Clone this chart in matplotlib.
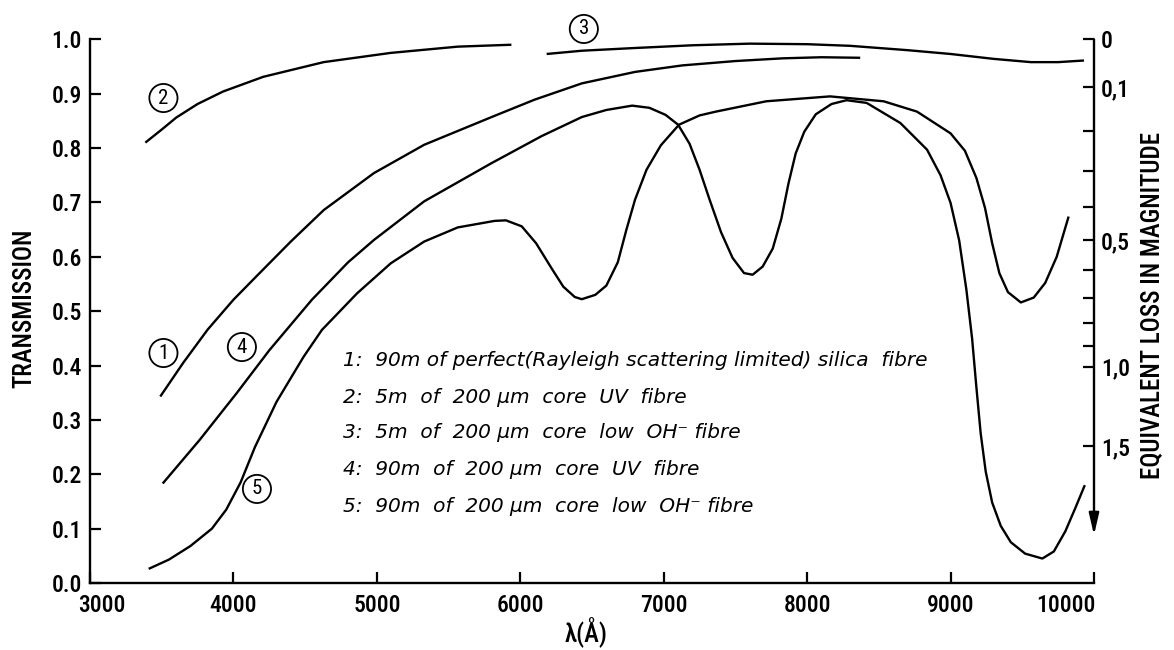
import numpy as np
import matplotlib
matplotlib.use("Agg")
import matplotlib.pyplot as plt
import matplotlib.font_manager as fm
import matplotlib.transforms as mtrans

# ---------------- data ----------------
c1_x = [3490, 3650, 3820, 4000, 4160, 4400, 4630, 4980, 5330, 5800, 6100, 6430, 6800, 7130, 7500, 7830, 8100, 8370]
c1_y = [0.343, 0.405, 0.466, 0.521, 0.564, 0.628, 0.686, 0.754, 0.806, 0.857, 0.889, 0.919, 0.940, 0.952, 0.960, 0.965, 0.967, 0.966]

c2_x = [3386, 3500, 3601, 3750, 3928, 4208, 4629, 5097, 5564, 5938]
c2_y = [0.810, 0.834, 0.856, 0.881, 0.904, 0.931, 0.958, 0.975, 0.9865, 0.990]

c3_x = [6184, 6430, 6800, 7200, 7600, 8000, 8300, 8700, 9000, 9300, 9560, 9750, 9930]
c3_y = [0.973, 0.979, 0.984, 0.989, 0.992, 0.991, 0.988, 0.980, 0.973, 0.964, 0.958, 0.958, 0.961]

c4_x = [3507, 3764, 4022, 4250, 4547, 4800, 4980, 5330, 5798, 6149, 6429, 6600, 6780, 6900, 7013, 7100,
        7180, 7250, 7320, 7400, 7480, 7560, 7620, 7690, 7760, 7820, 7870, 7920, 7980, 8060, 8170, 8275,
        8415, 8650, 8836, 8930, 9000, 9060, 9110, 9150, 9180, 9210, 9245, 9290, 9350, 9420, 9520, 9640,
        9720, 9800, 9870, 9936]
c4_y = [0.183, 0.263, 0.349, 0.428, 0.521, 0.590, 0.631, 0.702, 0.772, 0.822, 0.857, 0.870, 0.878, 0.874, 0.861, 0.843,
        0.808, 0.760, 0.705, 0.645, 0.598, 0.570, 0.567, 0.582, 0.615, 0.670, 0.735, 0.790, 0.830, 0.862, 0.881, 0.888,
        0.883, 0.846, 0.797, 0.750, 0.699, 0.630, 0.540, 0.450, 0.360, 0.275, 0.205, 0.148, 0.105, 0.075, 0.054, 0.045,
        0.058, 0.095, 0.138, 0.180]

c5_x = [3409, 3550, 3700, 3850, 3950, 4050, 4150, 4300, 4489, 4617, 4863, 5097, 5330, 5564, 5821, 5900, 6010,
        6110, 6220, 6300, 6380, 6429, 6523, 6600, 6680, 6740, 6800, 6880, 6980, 7107, 7250, 7364, 7715, 8159,
        8533, 8766, 9000, 9100, 9180, 9240, 9290, 9340, 9400, 9490, 9580, 9660, 9740, 9823]
c5_y = [0.026, 0.043, 0.068, 0.100, 0.135, 0.185, 0.250, 0.333, 0.416, 0.4655, 0.533, 0.588, 0.628, 0.654, 0.666, 0.667, 0.656,
        0.625, 0.578, 0.545, 0.526, 0.522, 0.530, 0.547, 0.590, 0.650, 0.705, 0.760, 0.805, 0.843, 0.860, 0.867, 0.886, 0.895,
        0.886, 0.867, 0.827, 0.795, 0.745, 0.690, 0.625, 0.570, 0.535, 0.516, 0.525, 0.552, 0.600, 0.674]

x_ticks = [3000, 4000, 5000, 6000, 7000, 8000, 9000, 10000]
y_ticks = [0.0, 0.1, 0.2, 0.3, 0.4, 0.5, 0.6, 0.7, 0.8, 0.9, 1.0]
mag_ticks = [0, 0.1, 0.2, 0.3, 0.4, 0.5, 0.6, 0.7, 0.8, 0.9, 1.0, 1.5]
mag_labels = {0: "0", 0.1: "0,1", 0.5: "0,5", 1.0: "1,0", 1.5: "1,5"}

legend_lines = [
    "1:  90m of perfect(Rayleigh scattering limited) silica  fibre",
    "2:  5m  of  200 \u03bcm  core  UV  fibre",
    "3:  5m  of  200 \u03bcm  core  low  OH\u207b fibre",
    "4:  90m  of  200 \u03bcm  core  UV  fibre",
    "5:  90m  of  200 \u03bcm  core  low  OH\u207b fibre",
]
curve_tags = ["1", "2", "3", "4", "5"]
tag_pos = [(3512, 0.423), (3512, 0.892), (6443, 1.019), (4059, 0.434), (4164, 0.173)]

# ---------------- fonts ----------------
names = {f.name for f in fm.fontManager.ttflist}
NARROW = "Roboto Condensed" if "Roboto Condensed" in names else "DejaVu Sans"
plt.rcParams["font.family"] = [NARROW, "DejaVu Sans"]

# ---------------- figure ----------------
W, H = 1174, 650
fig = plt.figure(figsize=(W / 100, H / 100), dpi=100)
L, R, T_, B = 90, 1094, 39.3, 583
ax = fig.add_axes([L / W, 1 - B / H, (R - L) / W, (B - T_) / H])

lw = 1.7
for xs, ys in [(c1_x, c1_y), (c2_x, c2_y), (c3_x, c3_y), (c4_x, c4_y), (c5_x, c5_y)]:
    ax.plot(xs, ys, color="black", lw=lw, solid_capstyle="butt", solid_joinstyle="round")

ax.set_xlim(3000, 10000)
ax.set_ylim(0, 1.0)
ax.set_xticks(x_ticks)
ax.set_xticklabels([str(v) for v in x_ticks])
ax.set_yticks(y_ticks)
ax.set_yticklabels([f"{v:.1f}" for v in y_ticks])
ax.tick_params(direction="in", length=8, width=1.6, labelsize=17, colors="black")
ax.tick_params(axis="x", pad=8)
ax.tick_params(axis="y", pad=6)
for lab in ax.get_xticklabels() + ax.get_yticklabels():
    lab.set_fontweight("medium")
xl = ax.get_xticklabels()
xl[0].set_transform(xl[0].get_transform() + mtrans.ScaledTranslation(12 / 100, 0, fig.dpi_scale_trans))
xl[-1].set_horizontalalignment("right")
xl[-1].set_transform(xl[-1].get_transform() + mtrans.ScaledTranslation(2 / 100, 0, fig.dpi_scale_trans))
for s in ["top", "right"]:
    ax.spines[s].set_visible(False)
for s in ["left", "bottom"]:
    ax.spines[s].set_linewidth(1.7)

# right magnitude axis
ax2 = ax.twinx()
ax2.set_ylim(0, 1.0)
mt = [10 ** (-m / 2.5) for m in mag_ticks]
ax2.set_yticks(mt)
ax2.set_yticklabels([mag_labels.get(m, "") for m in mag_ticks])
ax2.tick_params(axis="y", direction="in", length=8, width=1.6, labelsize=17, pad=5)
for lab in ax2.get_yticklabels():
    lab.set_fontweight("medium")
for s in ["top", "right", "left", "bottom"]:
    ax2.spines[s].set_visible(False)
ax2.annotate("", xy=(1.0, 0.088), xytext=(1.0, 1.0),
             xycoords=("axes fraction", "data"), textcoords=("axes fraction", "data"),
             arrowprops=dict(arrowstyle="-|>,head_length=1.3,head_width=0.3", lw=1.7,
                             color="black", shrinkA=0, shrinkB=0))

# curve tags
for t, (xx, yy) in zip(curve_tags, tag_pos):
    ax.text(xx, yy, t, ha="center", va="center", fontsize=15, clip_on=False,
            bbox=dict(boxstyle="circle,pad=0.22", fc="none", ec="black", lw=1.3))

# legend text
leg_y = [0.410, 0.342, 0.276, 0.208, 0.140]
for line, yy in zip(legend_lines, leg_y):
    ax.text(4767, yy, line, ha="left", va="center", fontsize=14.5, style="italic",
            family=["DejaVu Sans"])

# axis labels
fig.text(24 / W, 1 - 308 / H, "TRANSMISSION", rotation=90, ha="center", va="center",
         fontsize=18, fontweight="medium")
fig.text(1152 / W, 1 - 305 / H, "EQUIVALENT LOSS IN MAGNITUDE", rotation=90, ha="center",
         va="center", fontsize=18, fontweight="medium")
fig.text(586 / W, 1 - 632 / H, "\u03bb(\u00c5)", ha="center", va="center", fontsize=18,
         fontweight="medium")

fig.savefig("out.png", dpi=100, facecolor="white")
